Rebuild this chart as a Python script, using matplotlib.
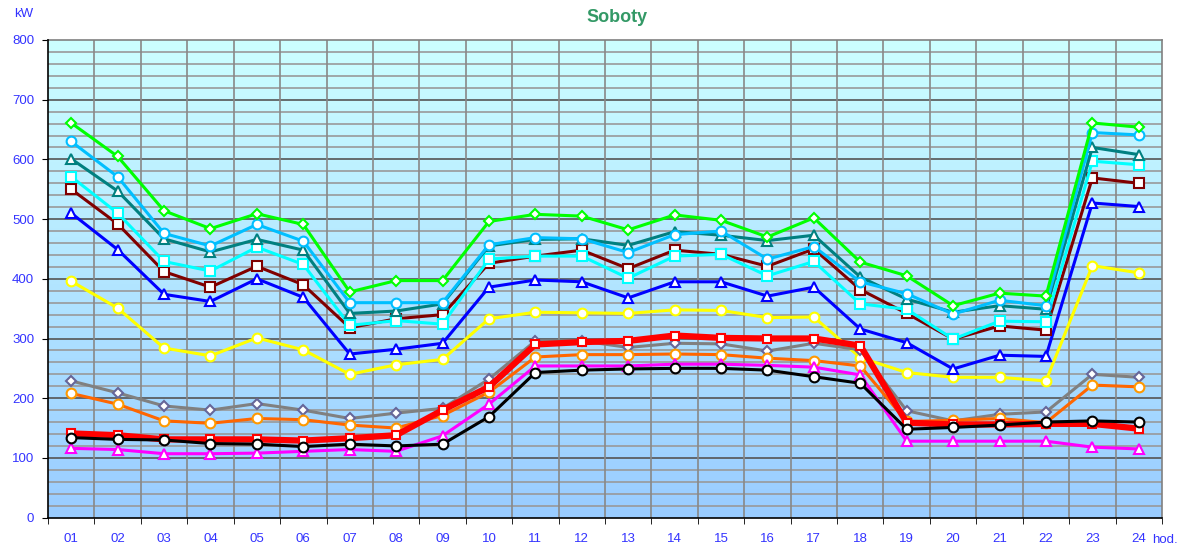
import numpy as np
import matplotlib
matplotlib.use('Agg')
import matplotlib.pyplot as plt
from matplotlib.colors import LinearSegmentedColormap

plt.rcParams['font.family'] = ['Liberation Sans', 'DejaVu Sans']

# Dane - godziny i moc [kW]
hours = ['%02d' % h for h in range(1, 25)]

green = [661, 605, 514, 484, 509, 491, 378, 397, 397, 496, 508, 505,
         482, 507, 498, 470, 502, 428, 405, 355, 376, 371, 661, 654]
skyblue = [630, 571, 476, 455, 491, 463, 360, 360, 360, 457, 469, 467,
           444, 474, 480, 433, 454, 395, 375, 341, 364, 355, 645, 641]
teal = [601, 547, 467, 445, 466, 448, 342, 346, 358, 455, 466, 467,
        456, 479, 473, 464, 473, 403, 366, 344, 355, 349, 620, 608]
cyan = [571, 510, 429, 413, 453, 424, 322, 330, 324, 433, 438, 438,
        401, 438, 441, 405, 429, 358, 349, 299, 329, 328, 597, 591]
darkred = [550, 492, 412, 386, 421, 390, 318, 333, 340, 426, 438, 448,
           417, 448, 441, 421, 450, 382, 342, 299, 321, 314, 569, 560]
blue = [510, 449, 374, 362, 400, 369, 274, 282, 292, 386, 398, 395,
        368, 395, 395, 371, 386, 316, 293, 249, 272, 270, 527, 521]
yellow = [396, 351, 284, 271, 301, 281, 240, 256, 265, 333, 344, 343,
          342, 348, 347, 335, 336, 268, 243, 235, 235, 229, 422, 410]
gray = [229, 209, 187, 180, 191, 180, 166, 175, 183, 232, 296, 296,
        285, 292, 291, 279, 292, 281, 179, 162, 173, 177, 240, 235]
orange = [208, 190, 162, 158, 166, 164, 155, 150, 171, 210, 269, 273,
          273, 274, 273, 267, 263, 254, 161, 163, 166, 159, 222, 219]
red = [141, 138, 131, 131, 131, 129, 133, 138, 180, 219, 290, 294,
       296, 305, 301, 300, 300, 288, 159, 156, 156, 157, 157, 149]
black = [134, 131, 130, 124, 123, 119, 123, 120, 123, 169, 243, 247,
         249, 250, 250, 247, 236, 225, 148, 151, 155, 160, 162, 160]
magenta = [116, 114, 107, 107, 108, 111, 114, 111, 137, 190, 254, 254,
           254, 257, 257, 255, 252, 239, 128, 128, 128, 128, 118, 115]

x = np.arange(1, 25)

fig = plt.figure(figsize=(11.83, 5.51), dpi=100)
ax = fig.add_axes([48 / 1183, 33.4 / 551, 1114 / 1183, 477.6 / 551])

# tlo - gradient
cmap = LinearSegmentedColormap.from_list('bg', ['#99CCFF', '#CCFFFF'])
grad = np.linspace(0, 1, 256).reshape(-1, 1)
ax.imshow(grad, cmap=cmap, aspect='auto', origin='lower',
          extent=[0.5, 24.5, 0, 800], zorder=0)

# siatka
for v in range(20, 800, 20):
    if v % 100 == 0:
        ax.axhline(v, color='#555555', lw=1.2, zorder=1)
    else:
        ax.axhline(v, color='#999999', lw=1.2, zorder=1)
for b in np.arange(1.5, 24.5, 1):
    ax.axvline(b, color='#888888', lw=1.2, zorder=1)

series = [
    (yellow, '#FFFF00', 'o', 7, '#FFFF00', 2.2),
    (blue, '#0000FF', '^', 7, '#0000FF', 2.2),
    (darkred, '#800000', 's', 6.5, '#800000', 2.2),
    (cyan, '#00FFFF', 's', 6.5, '#00FFFF', 2.2),
    (teal, '#008080', '^', 7, '#008080', 2.2),
    (skyblue, '#00BFFF', 'o', 7, '#00BFFF', 2.2),
    (green, '#00FF00', 'D', 5, '#00FF00', 2.2),
    (gray, '#808080', 'D', 5, '#666699', 2.2),
    (orange, '#FF6600', 'o', 7, '#FF9900', 2.2),
    (magenta, '#FF00FF', '^', 7, '#FF00FF', 2.2),
    (red, '#FF0000', 's', 6, '#FF0000', 4.5),
    (black, '#000000', 'o', 7, '#000000', 2.2),
]
for i, (vals, col, mk, ms, mec, lw) in enumerate(series):
    ax.plot(x, vals, color=col, lw=lw, marker=mk, markersize=ms,
            markerfacecolor='white', markeredgecolor=mec, markeredgewidth=1.5,
            zorder=3 + i, clip_on=False)

ax.set_xlim(0.5, 24.5)
ax.set_ylim(0, 800)
ax.set_yticks(range(0, 801, 100))
ax.set_xticks(x)
ax.set_xticklabels(hours)
ax.set_xticks(np.arange(0.5, 25, 1), minor=True)
ax.tick_params(axis='x', which='major', length=0, pad=11, labelsize=9.5,
               labelcolor='#3333FF')
ax.tick_params(axis='x', which='minor', length=4, direction='out', color='black')
ax.tick_params(axis='y', which='major', length=4, direction='out',
               labelsize=9.5, labelcolor='#3333FF', pad=6)

for s in ['left', 'bottom']:
    ax.spines[s].set_color('black')
    ax.spines[s].set_linewidth(1.2)
    ax.spines[s].set_zorder(20)
for s in ['top', 'right']:
    ax.spines[s].set_color('#808080')
    ax.spines[s].set_linewidth(1.2)

fig.text(617 / 1183, 1 - 18 / 551, 'Soboty', color='#339966', fontsize=13,
         fontweight='bold', ha='center', va='center')
fig.text(14 / 1183, 1 - 14 / 551, 'kW', color='#3333FF', fontsize=9.5,
         ha='left', va='center')
fig.text(1165 / 1183, 1 - 540 / 551, 'hod.', color='#3333FF', fontsize=9.5,
         ha='center', va='center')

fig.savefig('out.png', dpi=100)
